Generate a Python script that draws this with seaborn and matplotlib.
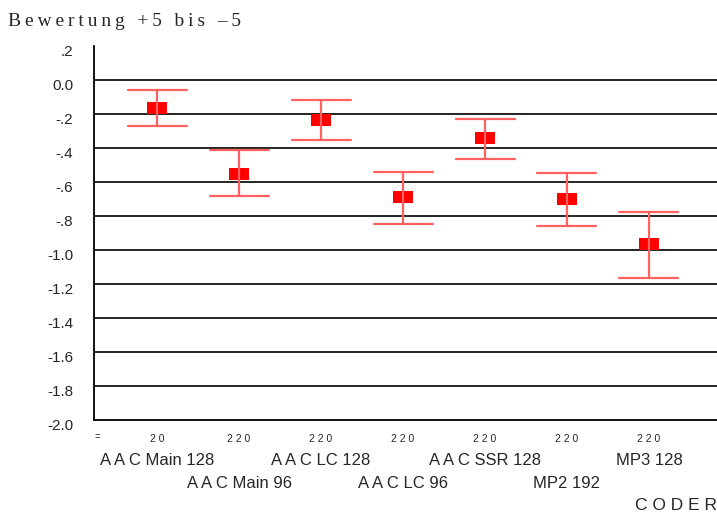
import numpy as np
import pandas as pd
import matplotlib
matplotlib.use("Agg")
import matplotlib.pyplot as plt
import matplotlib.transforms as mtransforms
import seaborn as sns

# Werte (Mittelwert und Grenzen des Fehlerbalkens)
coders = ["A A C Main 128", "A A C Main 96", "A A C LC 128",
          "A A C LC 96", "A A C SSR 128", "MP2 192", "MP3 128"]
means = [-0.165, -0.55, -0.235, -0.69, -0.34, -0.70, -0.965]
ci_low = [-0.27, -0.68, -0.355, -0.845, -0.465, -0.86, -1.165]
ci_high = [-0.06, -0.41, -0.115, -0.54, -0.23, -0.548, -0.778]
n_labels = ["20", "220", "220", "220", "220", "220", "220"]
y_ticks = [0.2, 0.0, -0.2, -0.4, -0.6, -0.8, -1.0, -1.2, -1.4, -1.6, -1.8, -2.0]
y_labels = [".2", "0.0", "-.2", "-.4", "-.6", "-.8", "-1.0", "-1.2", "-1.4", "-1.6", "-1.8", "-2.0"]

# Langes Format: Median = Mittelwert, Min/Max = Fehlerbalken
rows = []
for c, lo, m, hi in zip(coders, ci_low, means, ci_high):
    for v in (lo, m, hi):
        rows.append({"coder": c, "wert": v})
df = pd.DataFrame(rows)

sns.set_style("white")
plt.rcParams["font.family"] = ["Liberation Sans", "DejaVu Sans"]

fig = plt.figure(figsize=(7.17, 5.13), dpi=100)
ax = fig.add_axes([94 / 717, 1 - 420 / 513, 1 - 94 / 717, (420 - 46) / 513])

rect = [(-1.5, -1.0), (1.5, -1.0), (1.5, 1.0), (-1.5, 1.0), (-1.5, -1.0)]
sns.pointplot(data=df, x="coder", y="wert", estimator="median",
              errorbar=lambda v: (v.min(), v.max()),
              linestyle="none", marker=rect, markersize=14,
              markeredgewidth=0, color="#ff0000", capsize=0.72,
              err_kws={"color": "#ff6060", "linewidth": 1.6}, ax=ax)

ax.set_ylim(-2.0, 0.2)
ax.set_xlim(-0.77, 6.83)
ax.set_yticks(y_ticks)
ax.set_yticklabels(y_labels, fontsize=11)
ax.set_xticks(range(len(coders)))
ax.set_xticklabels([" ".join(s) for s in n_labels], fontsize=7.5)
ax.set_xlabel("")
ax.set_ylabel("")

ax.yaxis.grid(True, color="black", linewidth=1.2)
ax.set_axisbelow(True)
for g, t in zip(ax.yaxis.get_gridlines(), ax.get_yticks()):
    if t > 0.1 or t < -1.9:
        g.set_visible(False)

for s in ["top", "right"]:
    ax.spines[s].set_visible(False)
for s in ["left", "bottom"]:
    ax.spines[s].set_color("black")
    ax.spines[s].set_linewidth(1.3)

ax.tick_params(axis="y", direction="out", length=5, width=1, color="black", pad=10)
ax.tick_params(axis="x", direction="out", length=4, width=1, color="#666666", pad=6)
off = mtransforms.ScaledTranslation(0, -4 / 100, fig.dpi_scale_trans)
for lab in ax.get_yticklabels():
    lab.set_transform(lab.get_transform() + off)

# Codernamen in zwei Reihen
trans = mtransforms.blended_transform_factory(ax.transData, ax.transAxes)
for i, c in enumerate(coders):
    y = -0.107 if i % 2 == 0 else -0.171
    ax.text(i, y, c, transform=trans, ha="center", va="center", fontsize=12)

fig.text(97 / 717, 1 - 437 / 513, "=", ha="center", va="center", fontsize=7)
fig.text(1.0, 1 - 505 / 513, "C O D E R", ha="right", va="center", fontsize=12.5)
fig.text(8 / 717, 1 - 22 / 513, "\u2009".join("Bewertung +5 bis \u20135"),
         ha="left", va="center", fontsize=14, family=["Liberation Serif", "DejaVu Serif"])

fig.savefig("out.png", dpi=100)
